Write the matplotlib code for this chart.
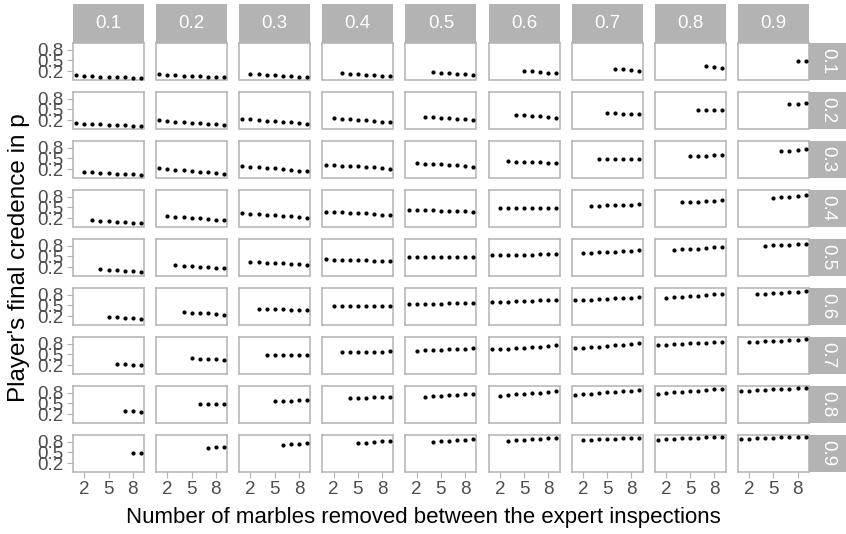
import matplotlib.pyplot as plt
from matplotlib.patches import Rectangle

plt.rcParams['font.family'] = ['Liberation Sans', 'DejaVu Sans']

# facet labels: expert credence (columns) and true proportion (rows)
col_levels = ['0.1', '0.2', '0.3', '0.4', '0.5', '0.6', '0.7', '0.8', '0.9']
row_levels = ['0.1', '0.2', '0.3', '0.4', '0.5', '0.6', '0.7', '0.8', '0.9']
removed = [1, 2, 3, 4, 5, 6, 7, 8, 9]
x_ticks = [2, 5, 8]
y_ticks = [0.2, 0.5, 0.8]

# final credence, one list per column facet; each series ends at 9 marbles removed
row_01 = [
    [0.095, 0.075, 0.055, 0.045, 0.035, 0.03, 0.022, 0.018, 0.014],
    [0.105, 0.095, 0.085, 0.07, 0.06, 0.05, 0.04, 0.03, 0.022],
    [0.115, 0.105, 0.095, 0.08, 0.07, 0.055, 0.045, 0.035],
    [0.14, 0.13, 0.115, 0.1, 0.09, 0.075, 0.06],
    [0.165, 0.155, 0.14, 0.13, 0.115, 0.1],
    [0.2, 0.19, 0.175, 0.16, 0.135],
    [0.255, 0.245, 0.23, 0.2],
    [0.33, 0.325, 0.29],
    [0.485, 0.49],
]
row_02 = [
    [0.115, 0.1, 0.09, 0.08, 0.07, 0.06, 0.055, 0.045, 0.04],
    [0.19, 0.175, 0.16, 0.145, 0.13, 0.115, 0.1, 0.08, 0.065],
    [0.23, 0.22, 0.2, 0.185, 0.17, 0.15, 0.135, 0.115, 0.095],
    [0.255, 0.24, 0.225, 0.21, 0.195, 0.175, 0.155, 0.135],
    [0.29, 0.28, 0.27, 0.255, 0.24, 0.225, 0.21],
    [0.34, 0.33, 0.32, 0.305, 0.29, 0.27],
    [0.39, 0.385, 0.38, 0.37, 0.36],
    [0.49, 0.49, 0.485, 0.485],
    [0.64, 0.655, 0.68],
]
row_03 = [
    [0.12, 0.11, 0.095, 0.085, 0.075, 0.06, 0.05, 0.04],
    [0.22, 0.2, 0.185, 0.165, 0.15, 0.13, 0.11, 0.09, 0.075],
    [0.28, 0.265, 0.25, 0.235, 0.22, 0.2, 0.18, 0.155, 0.135],
    [0.32, 0.31, 0.3, 0.29, 0.275, 0.26, 0.245, 0.23, 0.21],
    [0.36, 0.355, 0.345, 0.335, 0.32, 0.31, 0.29, 0.27],
    [0.415, 0.41, 0.405, 0.395, 0.385, 0.375, 0.36],
    [0.48, 0.48, 0.48, 0.48, 0.48, 0.48],
    [0.57, 0.575, 0.58, 0.59, 0.6],
    [0.7, 0.71, 0.725, 0.75],
]
row_04 = [
    [0.135, 0.125, 0.115, 0.1, 0.09, 0.075, 0.06],
    [0.245, 0.23, 0.22, 0.205, 0.19, 0.175, 0.155, 0.135],
    [0.33, 0.32, 0.305, 0.29, 0.28, 0.265, 0.25, 0.23, 0.21],
    [0.375, 0.37, 0.36, 0.35, 0.34, 0.33, 0.32, 0.3, 0.285],
    [0.43, 0.425, 0.42, 0.415, 0.41, 0.405, 0.395, 0.385, 0.375],
    [0.48, 0.48, 0.48, 0.48, 0.48, 0.48, 0.48, 0.48],
    [0.545, 0.55, 0.555, 0.56, 0.57, 0.575, 0.59],
    [0.64, 0.65, 0.66, 0.67, 0.68, 0.7],
    [0.77, 0.785, 0.8, 0.815, 0.835],
]
row_05 = [
    [0.14, 0.13, 0.115, 0.1, 0.085, 0.07],
    [0.25, 0.24, 0.23, 0.215, 0.2, 0.185, 0.17],
    [0.34, 0.335, 0.325, 0.315, 0.305, 0.295, 0.28, 0.27],
    [0.415, 0.41, 0.405, 0.4, 0.39, 0.385, 0.375, 0.37, 0.36],
    [0.475, 0.475, 0.475, 0.475, 0.475, 0.475, 0.475, 0.475, 0.475],
    [0.525, 0.53, 0.535, 0.54, 0.545, 0.55, 0.555, 0.56, 0.565],
    [0.59, 0.6, 0.61, 0.62, 0.63, 0.64, 0.65, 0.665],
    [0.68, 0.695, 0.71, 0.72, 0.735, 0.75, 0.77],
    [0.8, 0.81, 0.815, 0.825, 0.835, 0.845],
]
row_06 = [
    [0.18, 0.17, 0.155, 0.14, 0.12],
    [0.31, 0.3, 0.29, 0.275, 0.26, 0.24],
    [0.405, 0.4, 0.395, 0.39, 0.38, 0.37, 0.36],
    [0.47, 0.47, 0.47, 0.47, 0.47, 0.47, 0.47, 0.47],
    [0.53, 0.535, 0.54, 0.545, 0.55, 0.555, 0.56, 0.565, 0.575],
    [0.585, 0.595, 0.6, 0.61, 0.62, 0.63, 0.64, 0.65, 0.66],
    [0.64, 0.65, 0.66, 0.67, 0.68, 0.695, 0.705, 0.72, 0.735],
    [0.715, 0.73, 0.745, 0.76, 0.775, 0.79, 0.81, 0.83],
    [0.82, 0.83, 0.84, 0.85, 0.865, 0.875, 0.89],
]
row_07 = [
    [0.235, 0.225, 0.21, 0.19],
    [0.385, 0.38, 0.375, 0.365, 0.35],
    [0.48, 0.48, 0.48, 0.48, 0.48, 0.48],
    [0.555, 0.56, 0.565, 0.57, 0.575, 0.58, 0.585],
    [0.6, 0.61, 0.62, 0.63, 0.64, 0.65, 0.66, 0.675],
    [0.64, 0.65, 0.66, 0.67, 0.685, 0.7, 0.715, 0.73, 0.75],
    [0.675, 0.69, 0.705, 0.72, 0.735, 0.75, 0.765, 0.785, 0.805],
    [0.76, 0.77, 0.78, 0.795, 0.805, 0.815, 0.83, 0.845, 0.86],
    [0.845, 0.855, 0.865, 0.875, 0.885, 0.895, 0.905, 0.92],
]
row_08 = [
    [0.3, 0.29, 0.27],
    [0.47, 0.47, 0.47, 0.47],
    [0.56, 0.57, 0.58, 0.59, 0.6],
    [0.64, 0.65, 0.66, 0.67, 0.68, 0.69],
    [0.685, 0.7, 0.715, 0.73, 0.745, 0.755, 0.77],
    [0.72, 0.735, 0.75, 0.77, 0.785, 0.8, 0.82, 0.835],
    [0.74, 0.755, 0.77, 0.79, 0.805, 0.825, 0.84, 0.86, 0.88],
    [0.775, 0.79, 0.81, 0.83, 0.845, 0.86, 0.88, 0.895, 0.91],
    [0.85, 0.86, 0.87, 0.88, 0.89, 0.9, 0.91, 0.92, 0.925],
]
row_09 = [
    [0.47, 0.47],
    [0.63, 0.64, 0.66],
    [0.715, 0.73, 0.745, 0.76],
    [0.76, 0.775, 0.79, 0.81, 0.825],
    [0.79, 0.805, 0.82, 0.835, 0.85, 0.865],
    [0.83, 0.84, 0.855, 0.865, 0.875, 0.89, 0.9],
    [0.84, 0.855, 0.865, 0.875, 0.885, 0.895, 0.905, 0.91],
    [0.855, 0.87, 0.88, 0.89, 0.9, 0.91, 0.92, 0.925, 0.93],
    [0.875, 0.885, 0.895, 0.905, 0.915, 0.92, 0.93, 0.935, 0.94],
]
rows = [row_01, row_02, row_03, row_04, row_05, row_06, row_07, row_08, row_09]

W, H = 846, 534
LEFT, TOP = 73, 43
PANEL_W, PANEL_H = 71, 36.5
COL_STEP, ROW_STEP = 83.1, 49
STRIP_TOP_H = 39
STRIP_RIGHT_W = 37
GREY = '#b3b3b3'
TEXT_GREY = '#4d4d4d'


def box(left, top, w, h):
    return [left / W, 1 - (top + h) / H, w / W, h / H]


fig = plt.figure(figsize=(W / 100, H / 100), dpi=100)

for i, row in enumerate(rows):
    for j, vals in enumerate(row):
        left = LEFT + j * COL_STEP
        top = TOP + i * ROW_STEP
        ax = fig.add_axes(box(left, top, PANEL_W, PANEL_H))
        ax.scatter(removed[-len(vals):], vals, s=9, color='black',
                   linewidths=0, zorder=3)
        ax.set_xlim(0.6, 9.4)
        ax.set_ylim(-0.036, 0.987)
        ax.set_xticks(x_ticks)
        ax.set_yticks(y_ticks)
        for sp in ax.spines.values():
            sp.set_color(GREY)
            sp.set_linewidth(1.1)
        ax.tick_params(length=4.2, width=0.8, color=GREY, labelcolor=TEXT_GREY,
                       labelsize=13.5, pad=3,
                       bottom=(i == 8), labelbottom=(i == 8),
                       left=(j == 0), labelleft=(j == 0))

# column strips along the top
for j, lab in enumerate(col_levels):
    left = LEFT + j * COL_STEP
    fig.add_artist(Rectangle((left / W, 1 - TOP / H), PANEL_W / W,
                             STRIP_TOP_H / H, transform=fig.transFigure,
                             facecolor=GREY, edgecolor='none'))
    fig.text((left + PANEL_W / 2) / W, 1 - (TOP - STRIP_TOP_H / 2) / H, lab,
             ha='center', va='center', color='white', fontsize=13.5)

# row strips on the right
strip_left = LEFT + 8 * COL_STEP + PANEL_W
for i, lab in enumerate(row_levels):
    top = TOP + i * ROW_STEP
    fig.add_artist(Rectangle((strip_left / W, 1 - (top + PANEL_H) / H),
                             STRIP_RIGHT_W / W, PANEL_H / H,
                             transform=fig.transFigure,
                             facecolor=GREY, edgecolor='none'))
    fig.text((strip_left + STRIP_RIGHT_W / 2) / W, 1 - (top + PANEL_H / 2) / H,
             lab, ha='center', va='center', color='white', fontsize=13.5,
             rotation=-90)

grid_mid_y = TOP + (8 * ROW_STEP + PANEL_H) / 2
fig.text(423 / W, 1 - 517 / H,
         'Number of marbles removed between the expert inspections',
         ha='center', va='center', fontsize=16)
fig.text(19 / W, 1 - grid_mid_y / H, "Player's final credence in p",
         ha='center', va='center', rotation=90, fontsize=17.5)

fig.savefig('out.png', dpi=100)
